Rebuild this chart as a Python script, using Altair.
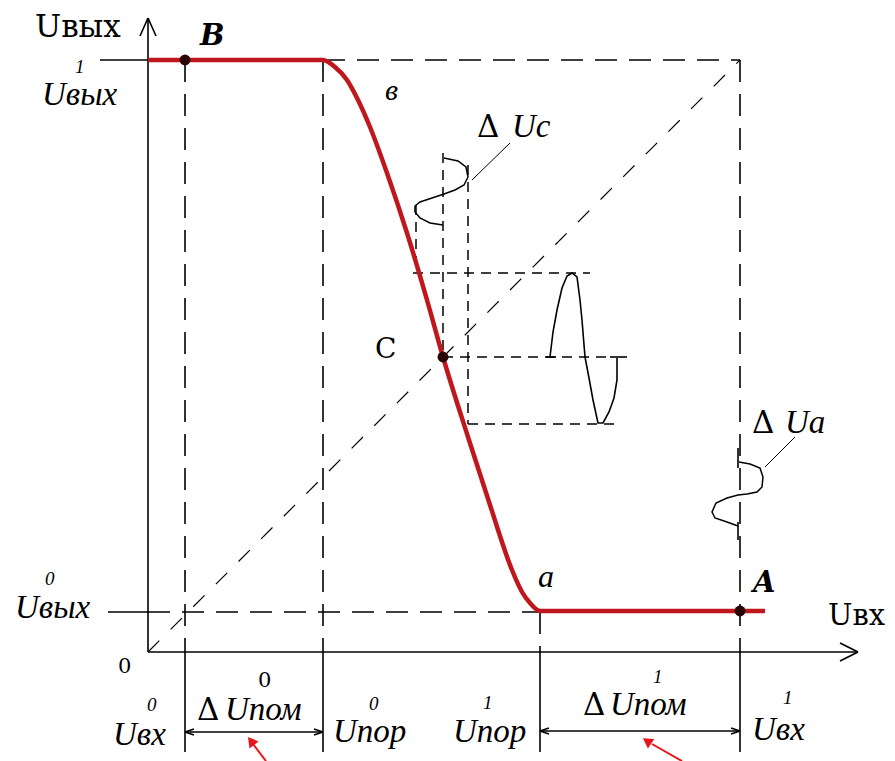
import altair as alt
import pandas as pd

# ---- frame (reference pixel coordinates) ----
W, H = 879, 753
X0, Y0 = 8, 8

# ---- red transfer characteristic (Uвх -> Uвых) ----
curve_x = [148, 323, 335, 347, 358, 370, 387, 407, 427, 443, 468, 490, 512, 522, 530, 540, 765]
curve_y = [60, 60, 67, 80, 100, 127, 173, 233, 300, 357, 437, 505, 570, 592, 603, 611, 611]

# ---- marked points B, C, A ----
dot_x = [185, 443, 740]
dot_y = [60, 357, 611]

# ---- input signal (sine around C) ----
sin_in_x = [550, 553, 557, 562, 567, 572, 577, 580, 582, 585, 589, 593, 598, 603, 609, 614, 617, 617]
sin_in_y = [357, 332, 310, 288, 276, 273, 277, 300, 320, 357, 378, 400, 423, 423, 412, 398, 380, 358]

# ---- output ripple ΔUc ----
duc_x = [444, 458, 466, 468, 464, 455, 444, 432, 420, 415, 415, 420, 430, 443]
duc_y = [158, 161, 167, 177, 185, 190, 194, 198, 202, 206, 212, 218, 223, 225]

# ---- interference ΔUa ----
dua_x = [739, 750, 760, 763, 762, 757, 747, 738, 727, 716, 712, 715, 727, 738]
dua_y = [462, 464, 468, 477, 487, 492, 494, 495, 498, 503, 512, 518, 522, 526]

# ---- solid segments: axes, ticks, dimension lines ----
solid_x1 = [148, 140, 156, 148, 840, 840, 100, 108, 185, 323, 540, 740, 185, 540,
            185, 185, 323, 323, 540, 540, 740, 740, 546, 738, 738, 610]
solid_y1 = [652, 36, 36, 652, 643, 661, 60, 612, 652, 652, 652, 652, 732, 731,
            732, 732, 732, 732, 731, 731, 731, 731, 357, 448, 522, 357]
solid_x2 = [148, 148, 148, 858, 858, 858, 148, 148, 185, 323, 540, 740, 323, 740,
            194, 194, 314, 314, 549, 549, 731, 731, 556, 738, 738, 627]
solid_y2 = [18, 18, 18, 652, 652, 652, 60, 612, 752, 752, 752, 752, 732, 731,
            729, 735, 729, 735, 728, 734, 728, 734, 357, 468, 540, 357]

# ---- long dashed guide lines ----
dash_x1 = [323, 740, 185, 323, 148, 540]
dash_y1 = [60, 60, 60, 60, 612, 612]
dash_x2 = [740, 740, 185, 323, 540, 540]
dash_y2 = [60, 652, 652, 652, 612, 652]

# ---- short dashed projection lines ----
sdash_x1 = [413, 443, 468, 443, 468, 416]
sdash_y1 = [273, 357, 424, 153, 165, 205]
sdash_x2 = [590, 610, 615, 443, 468, 416]
sdash_y2 = [273, 357, 424, 357, 424, 273]

# ---- diagonal Uвх = Uвых ----
diag_x1, diag_y1, diag_x2, diag_y2 = [148], [652], [740], [60]

# ---- leader lines ----
lead_x1 = [510, 795]
lead_y1 = [143, 437]
lead_x2 = [472, 765]
lead_y2 = [180, 467]

# ---- red pointer arrows ----
rarr_x1 = [266, 682]
rarr_y1 = [761, 761]
rarr_x2 = [253, 652]
rarr_y2 = [744, 744]
rhead_x = [251, 647]
rhead_y = [741, 741]
rhead_ang = [322, 304]

# ---- labels (left edge x, baseline y) ----
up_text = ["Uвых", "C", "Uвх", "0", "0"]
up_x = [35, 375, 828, 118, 258]
up_y = [37, 358, 625, 673, 687]
up_fs = [31, 28, 29, 21, 21]

dl_text = ["Δ", "Δ", "Δ", "Δ"]
dl_x = [477, 752, 197, 583]
dl_y = [137, 433, 720, 715]
dl_fs = [31, 31, 31, 31]

it_text = ["1", "Uвых", "в", "Uc", "Ua", "a", "0", "Uвых", "0", "Uвх", "Uпом",
           "0", "Uпор", "1", "Uпор", "1", "Uпом", "1", "Uвх"]
it_x = [75, 42, 385, 512, 785, 538, 45, 15, 147, 113, 225, 369, 333, 483, 453, 653, 610, 783, 752]
it_y = [73, 105, 100, 137, 433, 587, 585, 618, 711, 745, 720, 710, 742, 709, 742, 683, 715, 704, 740]
it_fs = [19, 33, 30, 33, 33, 32, 19, 33, 19, 33, 33, 19, 33, 19, 33, 19, 33, 19, 33]

bd_text = ["B", "A"]
bd_x = [200, 753]
bd_y = [45, 592]
bd_fs = [29, 29]

FONT = "DejaVu Serif"
IFONT = "Liberation Serif"

xs = alt.Scale(domain=[X0, X0 + W], nice=False, zero=False)
ys = alt.Scale(domain=[Y0, Y0 + H], nice=False, zero=False, reverse=True)


def seg_layer(x1, y1, x2, y2, **mk):
    df = pd.DataFrame({"x": x1, "y": y1, "x2": x2, "y2": y2})
    return alt.Chart(df).mark_rule(**mk).encode(
        x=alt.X("x:Q", scale=xs, axis=None),
        y=alt.Y("y:Q", scale=ys, axis=None),
        x2="x2:Q",
        y2="y2:Q",
    )


def path_layer(px, py, **mk):
    df = pd.DataFrame({"x": px, "y": py, "i": list(range(len(px)))})
    return alt.Chart(df).mark_line(**mk).encode(
        x=alt.X("x:Q", scale=xs, axis=None),
        y=alt.Y("y:Q", scale=ys, axis=None),
        order="i:Q",
    )


def text_layer(t, tx, ty, fs, font=FONT, **mk):
    df = pd.DataFrame({"t": t, "x": tx, "y": ty, "fs": fs})
    return alt.Chart(df).mark_text(font=font, align="left", baseline="alphabetic",
                                   color="black", **mk).encode(
        x=alt.X("x:Q", scale=xs, axis=None),
        y=alt.Y("y:Q", scale=ys, axis=None),
        text="t:N",
        size=alt.Size("fs:Q", scale=None),
    )


layers = [
    seg_layer(dash_x1, dash_y1, dash_x2, dash_y2, color="black", strokeWidth=1.6, strokeDash=[22, 12]),
    seg_layer(diag_x1, diag_y1, diag_x2, diag_y2, color="black", strokeWidth=1.2, strokeDash=[16, 16]),
    seg_layer(sdash_x1, sdash_y1, sdash_x2, sdash_y2, color="black", strokeWidth=1.5, strokeDash=[10, 7]),
    seg_layer(solid_x1, solid_y1, solid_x2, solid_y2, color="black", strokeWidth=1.6),
    seg_layer(lead_x1, lead_y1, lead_x2, lead_y2, color="black", strokeWidth=1.0),
    path_layer(sin_in_x, sin_in_y, color="black", strokeWidth=1.6),
    path_layer(duc_x, duc_y, color="black", strokeWidth=1.5),
    path_layer(dua_x, dua_y, color="black", strokeWidth=1.5),
    path_layer(curve_x, curve_y, color="#c0161e", strokeWidth=4.5, interpolate="monotone"),
    alt.Chart(pd.DataFrame({"x": dot_x, "y": dot_y})).mark_circle(
        size=120, color="#2a0505", opacity=1).encode(
        x=alt.X("x:Q", scale=xs, axis=None), y=alt.Y("y:Q", scale=ys, axis=None)),
    seg_layer(rarr_x1, rarr_y1, rarr_x2, rarr_y2, color="#e8141a", strokeWidth=2),
    alt.Chart(pd.DataFrame({"x": rhead_x, "y": rhead_y, "a": rhead_ang})).mark_point(
        shape="triangle-up", filled=True, size=130, color="#e8141a", opacity=1).encode(
        x=alt.X("x:Q", scale=xs, axis=None), y=alt.Y("y:Q", scale=ys, axis=None),
        angle=alt.Angle("a:Q", scale=None)),
    text_layer(up_text, up_x, up_y, up_fs),
    text_layer(dl_text, dl_x, dl_y, dl_fs),
    text_layer(it_text, it_x, it_y, it_fs, font=IFONT, fontStyle="italic"),
    text_layer(bd_text, bd_x, bd_y, bd_fs, fontStyle="italic", fontWeight="bold"),
]

chart = alt.layer(*layers).properties(
    width=W, height=H, autosize=alt.AutoSizeParams(type="none"), padding=0,
    background="white",
).configure_view(stroke=None)

chart.save("out.html", embed_options={"renderer": "svg", "actions": False})
